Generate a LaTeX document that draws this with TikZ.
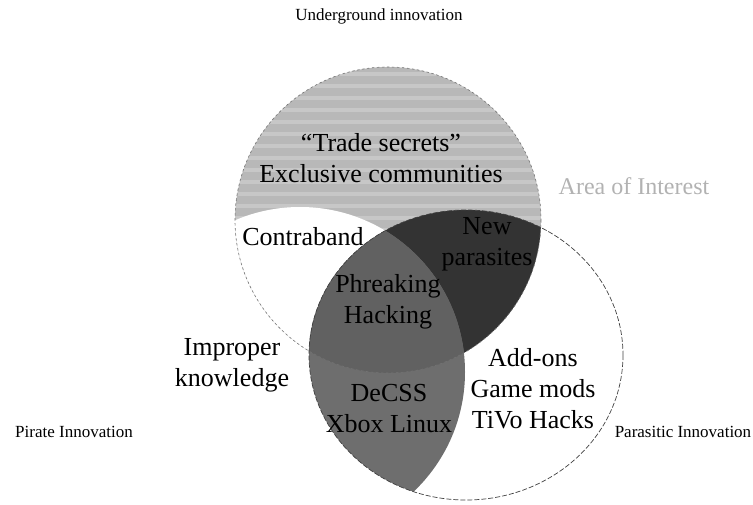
\documentclass[tikz,border=0pt]{standalone}
\usepackage{fontspec}
\setmainfont{Liberation Serif}
\definecolor{lightshade}{gray}{0.72}
\definecolor{darkshade}{gray}{0.20}
\definecolor{tripshade}{gray}{0.38}
\definecolor{lensshade}{gray}{0.43}
\definecolor{faint}{gray}{0.70}
\begin{document}
\begin{tikzpicture}[x=1pt,y=-1pt,
  bigtext/.style={font=\fontsize{26}{31}\selectfont, align=center, inner sep=0pt},
  smalltext/.style={font=\fontsize{17}{20}\selectfont, inner sep=0pt},
  topline/.style={draw=black!55, line width=0.6pt, dash pattern=on 2.5pt off 2.5pt},
  rightline/.style={draw=black!75, line width=0.7pt, dash pattern=on 5pt off 2pt}]
\useasboundingbox (0,0) rectangle (753,505);
\def\toppath{(388,220) circle[radius=153]}
\def\leftpath{(300,372) circle[radius=165]}
\def\rightpath{(466,355) ellipse[x radius=157, y radius=145]}
% Underground circle (top only region)
\fill[lightshade] \toppath;
\begin{scope}
  \clip \toppath;
  \foreach \yy in {74,86,...,380} {
    \draw[white, opacity=0.22, line width=4pt] (200,\yy) -- (560,\yy);
  }
\end{scope}
% top and pirate: white
\begin{scope}
  \clip \toppath;
  \fill[white] \leftpath;
\end{scope}
% top and parasitic: dark
\begin{scope}
  \clip \toppath;
  \fill[darkshade] \rightpath;
\end{scope}
% pirate and parasitic
\begin{scope}
  \clip \leftpath;
  \fill[lensshade] \rightpath;
\end{scope}
% all three
\begin{scope}
  \clip \toppath;
  \clip \leftpath;
  \fill[tripshade] \rightpath;
\end{scope}
% outlines
\draw[topline] \toppath;
\draw[rightline] \rightpath;
% texts
\node[smalltext] (under) at (379,16) {Underground innovation};
\node[smalltext] (pirate) at (74,432) {Pirate Innovation};
\node[smalltext] (parasitic) at (683,432) {Parasitic Innovation};
\node[bigtext, text=faint, font=\fontsize{24}{28}\selectfont] (area) at (634,186) {Area of Interest};
\node[bigtext] (trade) at (381,158) {“Trade secrets”\\Exclusive communities};
\node[bigtext] (contra) at (303,237) {Contraband};
\node[bigtext] (newpar) at (487,244) {New\\parasites};
\node[bigtext] (phreak) at (388,302) {Phreaking\\Hacking};
\node[bigtext] (decss) at (389,409) {DeCSS\\Xbox Linux};
\node[bigtext] (improper) at (232,365) {Improper\\knowledge};
\node[bigtext] (addons) at (533,389) {Add-ons\\Game mods\\TiVo Hacks};
\end{tikzpicture}
\end{document}
